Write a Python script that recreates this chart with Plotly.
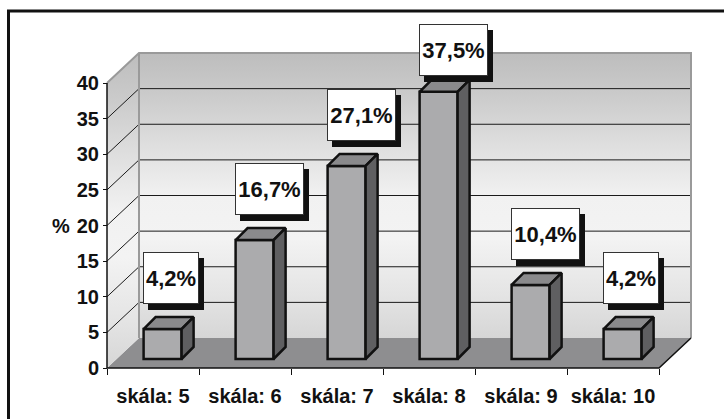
import plotly.graph_objects as go

# ---- data ----
categories = ["skála: 5", "skála: 6", "skála: 7", "skála: 8", "skála: 9", "skála: 10"]
values = [4.2, 16.7, 27.1, 37.5, 10.4, 4.2]
value_labels = ["4,2%", "16,7%", "27,1%", "37,5%", "10,4%", "4,2%"]
y_ticks = [0, 5, 10, 15, 20, 25, 30, 35, 40]
y_max_tick = 40

# ---- geometry (pixel scale of the reference) ----
PX_X = 92.0      # px per category
PX_Y = 7.125     # px per % unit
DX = 32 / PX_X   # full 3D depth, x
DY = 30 / PX_Y   # full 3D depth, y
F = 0.3          # depth fraction of the bar fronts
BAR_W = 38 / PX_X
BAR_OFF = -BAR_W / 2 + F * DX
BAR_BASE = F * DY
BX = 12 / PX_X
BY = 12 / PX_Y

n = len(categories)
pos = list(range(n))
L = -0.5
R = n - 0.5

# plot area in px
PL, PR, PT, PB = 97, 714, 14, 378
x_range = [L - (107 - PL) / PX_X, L + (PR - 107) / PX_X]
y_range = [-(PB - 368) / PX_Y, (368 - PT) / PX_Y]

FONT = "Liberation Sans, Arial, sans-serif"

fig = go.Figure()

# floor
fig.add_trace(go.Scatter(
    x=[L, R, R + DX, L + DX, L], y=[0, 0, DY, DY, 0], mode="lines",
    fill="toself", fillcolor="#8e8e90", line=dict(width=0), xaxis="x", yaxis="y"))

wall_scale = [[0, "#d6d6d6"], [0.15, "#e4e4e4"], [0.35, "#f3f3f3"], [0.5, "#f1f1f1"],
              [0.7, "#dcdcdc"], [0.85, "#cbcbcb"], [1, "#bdbdbd"]]
# left wall
fig.add_trace(go.Scatter(
    x=[L, L + DX, L + DX, L, L], y=[0, DY, y_max_tick + DY, y_max_tick, 0], mode="lines",
    fill="toself", fillgradient=dict(type="vertical", colorscale=wall_scale),
    line=dict(width=0)))
# back wall
fig.add_trace(go.Scatter(
    x=[L + DX, R + DX, R + DX, L + DX, L + DX], y=[DY, DY, y_max_tick + DY, y_max_tick + DY, DY],
    mode="lines", fill="toself", fillgradient=dict(type="vertical", colorscale=wall_scale),
    line=dict(width=0)))

# gridlines
gx, gy = [], []
for t in y_ticks:
    if 0 < t < y_max_tick:
        gx += [L, L + DX, R + DX, None]
        gy += [t, t + DY, t + DY, None]
fig.add_trace(go.Scatter(x=gx, y=gy, mode="lines", line=dict(color="#1a1a1a", width=1)))

# wall outlines (gray)
fig.add_trace(go.Scatter(
    x=[L, L + DX, R + DX, R + DX, None, L + DX, L + DX],
    y=[y_max_tick, y_max_tick + DY, y_max_tick + DY, DY, None, DY, y_max_tick + DY],
    mode="lines", line=dict(color="#9a9a9a", width=2)))

# front axis edges
fig.add_trace(go.Scatter(
    x=[L, L, None, L, R, R + DX], y=[y_max_tick, 0, None, 0, 0, DY],
    mode="lines", line=dict(color="#111111", width=1.5)))

# ---- bars (overlay subplot so they sit above the walls) ----
fig.add_trace(go.Bar(
    x=pos, y=values, base=BAR_BASE, offset=BAR_OFF, width=BAR_W,
    marker=dict(color="#ababad", line=dict(color="#111111", width=2.5)),
    xaxis="x2", yaxis="y2"))

tx, ty, sx, sy = [], [], [], []
for i, v in zip(pos, values):
    x0 = i + BAR_OFF
    x1 = x0 + BAR_W
    yt = BAR_BASE + v
    tx += [x0, x1, x1 + BX, x0 + BX, x0, None]
    ty += [yt, yt, yt + BY, yt + BY, yt, None]
    sx += [x1, x1 + BX, x1 + BX, x1, x1, None]
    sy += [BAR_BASE, BAR_BASE + BY, yt + BY, yt, BAR_BASE, None]
fig.add_trace(go.Scatter(x=tx, y=ty, mode="lines", fill="toself", fillcolor="#8a8a8c",
                         line=dict(color="#111111", width=2.5), xaxis="x2", yaxis="y2"))
fig.add_trace(go.Scatter(x=sx, y=sy, mode="lines", fill="toself", fillcolor="#5f5f61",
                         line=dict(color="#111111", width=2.5), xaxis="x2", yaxis="y2"))

# ---- value labels with shadow ----
label_gap = 25 / PX_Y
label_limit = (368 - 76) / PX_Y
label_font = dict(family=FONT, size=22, weight="bold", color="#111111")
annotations = []
for i, v, lab in zip(pos, values, value_labels):
    ya = min(BAR_BASE + v + label_gap, label_limit)
    w = 13 * len(lab) + 2
    common = dict(x=i + BAR_OFF, y=ya, xref="x", yref="y", xanchor="left", yanchor="bottom",
                  showarrow=False, width=w, height=50, borderpad=0, borderwidth=1,
                  font=label_font)
    annotations.append(dict(text=" ", xshift=4, yshift=-6, bgcolor="#111111",
                            bordercolor="#111111", **common))
    annotations.append(dict(text=lab, xshift=-1, yshift=0, bgcolor="white",
                            bordercolor="#333333", **common))

annotations.append(dict(text="%", x=L, y=20, xref="x", yref="y", xanchor="right", yanchor="middle",
                        xshift=-35, showarrow=False,
                        font=dict(family=FONT, size=20, weight="bold", color="#111111")))

fig.update_layout(
    width=724, height=419,
    margin=dict(l=PL, r=724 - PR, t=PT, b=419 - PB),
    paper_bgcolor="white", plot_bgcolor="rgba(0,0,0,0)",
    showlegend=False, hovermode=False,
    xaxis=dict(range=x_range, anchor="free", position=(PB - 368) / (PB - PT),
               tickvals=pos, ticktext=categories, ticks="", showgrid=False, zeroline=False,
               showline=False, ticklabelstandoff=14,
               minor=dict(tick0=-0.5, dtick=1, ticks="outside", ticklen=6, tickwidth=1,
                          tickcolor="#111111", showgrid=False),
               tickfont=dict(family=FONT, size=20, weight="bold", color="#111111")),
    yaxis=dict(range=y_range, anchor="free", position=(107 - PL) / (PR - PL),
               tickvals=y_ticks, ticks="outside", ticklen=4, tickwidth=1, tickcolor="#111111",
               showgrid=False, zeroline=False, showline=False,
               tickfont=dict(family=FONT, size=20, weight="bold", color="#111111")),
    xaxis2=dict(range=x_range, overlaying="x", anchor="y2", visible=False),
    yaxis2=dict(range=y_range, overlaying="y", anchor="x2", visible=False),
    annotations=annotations,
    shapes=[dict(type="rect", xref="paper", yref="paper",
                 x0=(8.5 - PL) / (PR - PL), x1=1.1, y0=-0.3, y1=(PB - 11) / (PB - PT),
                 line=dict(color="#111111", width=3), fillcolor="rgba(0,0,0,0)")],
)

fig.write_html("out.html", config={"displayModeBar": False},
               post_script="document.body.style.margin='0';")
